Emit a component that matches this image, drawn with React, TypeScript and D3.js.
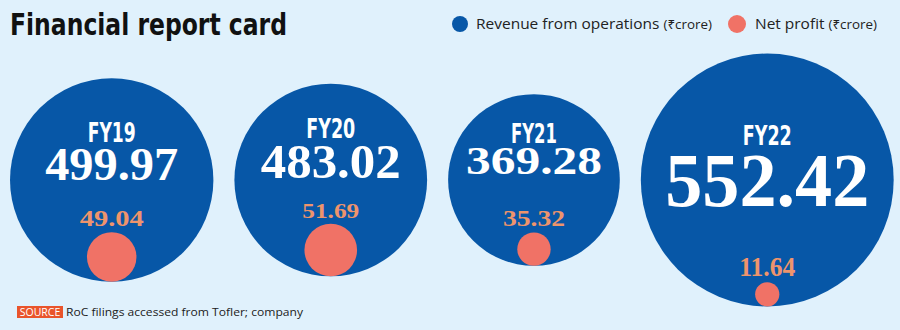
import React, { useEffect } from "react";
import * as d3 from "d3";

// ---- data ----
const YEARS = ["FY19", "FY20", "FY21", "FY22"];
const REVENUE = [499.97, 483.02, 369.28, 552.42];
const PROFIT = [49.04, 51.69, 35.32, 11.64];
const LEGEND_LABELS = ["Revenue from operations", "Net profit"];
const LEGEND_UNIT = "(₹crore)";
const TITLE = "Financial report card";
const SOURCE_TAG = "SOURCE";
const SOURCE_TEXT = "RoC filings accessed from Tofler; company";

// ---- styles ----
const W = 900;
const H = 330;
const BG = "#E0F1FC";
const BLUE = "#0757A7";
const PINK = "#F07266";
const PINK_TEXT = "#EE946C";
const CY = 180;
const LEFT = 10;
const GAP = 21;
const LABEL_DY = [-38, -42, -37, -35];
const LABEL_W = [48, 49, 46, 49];
const VALUE_FS = [47, 49, 39, 76];
const VALUE_W = [133, 140, 136, 204];
const VALUE_BASE = [180, 178, 174, 206];
const PROFIT_FS = [24, 22, 23, 27];
const PROFIT_W = [64, 57, 62, 56];
const LEGEND_X = [476, 755];
const LEGEND_DOT_X = [460, 737];
const LEGEND_DOT_R = [8, 9];
const LEGEND_W = [236, 122];

const rScale = d3.scaleLinear().domain([360, 490, 560]).range([85, 97, 130]);
const pScale = d3.scaleLinear().domain([10, 35, 52]).range([11.8, 16.5, 26.5]);
const fmt = d3.format(".2f");

export default function App() {
  useEffect(() => {
    document.body.style.margin = "0";
  }, []);

  // pack circles left to right
  const radii = REVENUE.map((v) => rScale(v));
  const cxs: number[] = [];
  let edge = LEFT;
  radii.forEach((r) => {
    cxs.push(edge + r);
    edge = edge + 2 * r + GAP;
  });

  const legendColors = [BLUE, PINK];

  return (
    <svg width={W} height={H} style={{ display: "block" }}>
      <rect x={0} y={0} width={W} height={H} fill={BG} />
      <text
        x={10}
        y={35}
        fontFamily="'Liberation Sans Narrow', 'DejaVu Sans Condensed', sans-serif"
        fontWeight="bold"
        fontSize={30}
        fill="#111"
        textLength={277}
        lengthAdjust="spacingAndGlyphs"
      >
        {TITLE}
      </text>

      {/* legend */}
      {LEGEND_LABELS.map((lab, i) => (
        <g key={lab}>
          <circle cx={LEGEND_DOT_X[i]} cy={24} r={LEGEND_DOT_R[i]} fill={legendColors[i]} />
          <text
            x={LEGEND_X[i]}
            y={29}
            fontFamily="'Open Sans', 'Noto Sans', sans-serif"
            fontSize={15}
            fill="#222"
            textLength={LEGEND_W[i]}
            lengthAdjust="spacingAndGlyphs"
          >
            {lab + " "}
            <tspan fontSize={13}>{LEGEND_UNIT}</tspan>
          </text>
        </g>
      ))}

      {YEARS.map((y, i) => {
        const r = radii[i];
        const cx = cxs[i];
        const pr = pScale(PROFIT[i]);
        const pcy = CY + r - pr;
        return (
          <g key={y}>
            <circle cx={cx} cy={CY} r={r} fill={BLUE} />
            <text
              x={cx}
              y={CY + LABEL_DY[i]}
              textAnchor="middle"
              fontFamily="'Liberation Sans Narrow', 'DejaVu Sans Condensed', sans-serif"
              fontWeight="bold"
              fontSize={26}
              fill="#fff"
              textLength={LABEL_W[i]}
              lengthAdjust="spacingAndGlyphs"
            >
              {y}
            </text>
            <text
              x={cx}
              y={VALUE_BASE[i]}
              textAnchor="middle"
              fontFamily="'Liberation Serif', 'DejaVu Serif', serif"
              fontWeight="bold"
              fontSize={VALUE_FS[i]}
              fill="#fff"
              textLength={VALUE_W[i]}
              lengthAdjust="spacingAndGlyphs"
            >
              {fmt(REVENUE[i])}
            </text>
            <circle cx={cx} cy={pcy} r={pr} fill={PINK} />
            <text
              x={cx}
              y={pcy - pr - 6}
              textAnchor="middle"
              fontFamily="'Liberation Serif', 'DejaVu Serif', serif"
              fontWeight="bold"
              fontSize={PROFIT_FS[i]}
              fill={PINK_TEXT}
              textLength={PROFIT_W[i]}
              lengthAdjust="spacingAndGlyphs"
            >
              {fmt(PROFIT[i])}
            </text>
          </g>
        );
      })}

      {/* source */}
      <rect x={17} y={306} width={46} height={12} fill="#E9542B" />
      <text x={40} y={316} textAnchor="middle" fontFamily="'Open Sans', 'Noto Sans', sans-serif" fontSize={10.5} fill="#fff">
        {SOURCE_TAG}
      </text>
      <text x={66} y={316} fontFamily="'Open Sans', 'Noto Sans', sans-serif" fontSize={11.5} fill="#222" textLength={237} lengthAdjust="spacingAndGlyphs">
        {SOURCE_TEXT}
      </text>
    </svg>
  );
}
